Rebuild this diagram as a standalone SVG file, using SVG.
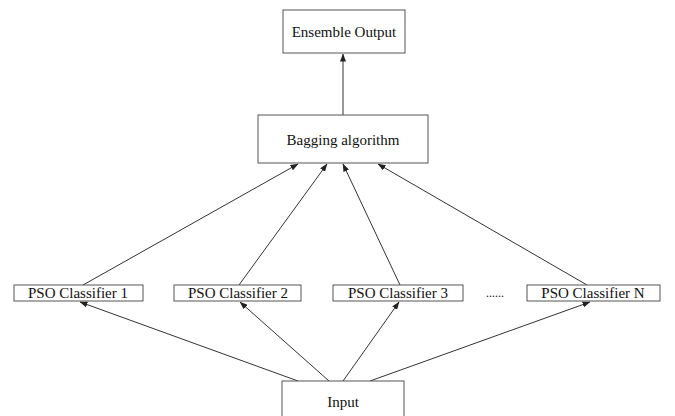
<svg xmlns="http://www.w3.org/2000/svg" width="675" height="416" viewBox="0 0 675 416">
<defs>
<marker id="ah" markerWidth="8" markerHeight="6" refX="7.5" refY="3" orient="auto" markerUnits="userSpaceOnUse">
<path d="M0,0 L8,3 L0,6 Z" fill="#222"/>
</marker>
<style>
.box{fill:#fff;stroke:#555;stroke-width:1}
.t{font-family:"Liberation Serif","Times New Roman",serif;font-size:15px;fill:#111;text-anchor:middle}
.c{stroke:#333;stroke-width:1;fill:none;marker-end:url(#ah)}
</style>
</defs>
<rect width="675" height="416" fill="#fff"/>
<g id="connectors">
<line class="c" x1="343" y1="115" x2="343" y2="54"/>
<line class="c" x1="83" y1="285" x2="298" y2="164"/>
<line class="c" x1="239" y1="285" x2="327" y2="164"/>
<line class="c" x1="400" y1="285" x2="343" y2="164"/>
<line class="c" x1="587" y1="285" x2="378" y2="164"/>
<line class="c" x1="298" y1="381" x2="80" y2="302"/>
<line class="c" x1="329" y1="381" x2="240" y2="302"/>
<line class="c" x1="343" y1="381" x2="399" y2="302"/>
<line class="c" x1="370" y1="381" x2="590" y2="302"/>
</g>
<g id="ensemble">
<rect class="box" x="283" y="10" width="122" height="43"/>
<text class="t" x="344" y="37">Ensemble Output</text>
</g>
<g id="bagging">
<rect class="box" x="258" y="115" width="170" height="48"/>
<text class="t" x="343" y="145">Bagging algorithm</text>
</g>
<g id="pso1">
<rect class="box" x="14" y="285" width="129" height="16"/>
<text class="t" x="78" y="298">PSO Classifier 1</text>
</g>
<g id="pso2">
<rect class="box" x="174" y="285" width="127" height="16"/>
<text class="t" x="238" y="298">PSO Classifier 2</text>
</g>
<g id="pso3">
<rect class="box" x="333" y="285" width="130" height="16"/>
<text class="t" x="398" y="298">PSO Classifier 3</text>
</g>
<g id="dots">
<text class="t" x="495" y="297" style="font-size:12px">......</text>
</g>
<g id="psoN">
<rect class="box" x="527" y="285" width="133" height="16"/>
<text class="t" x="593" y="298">PSO Classifier N</text>
</g>
<g id="input">
<rect class="box" x="282" y="381" width="122" height="40"/>
<text class="t" x="343" y="407">Input</text>
</g>
</svg>
